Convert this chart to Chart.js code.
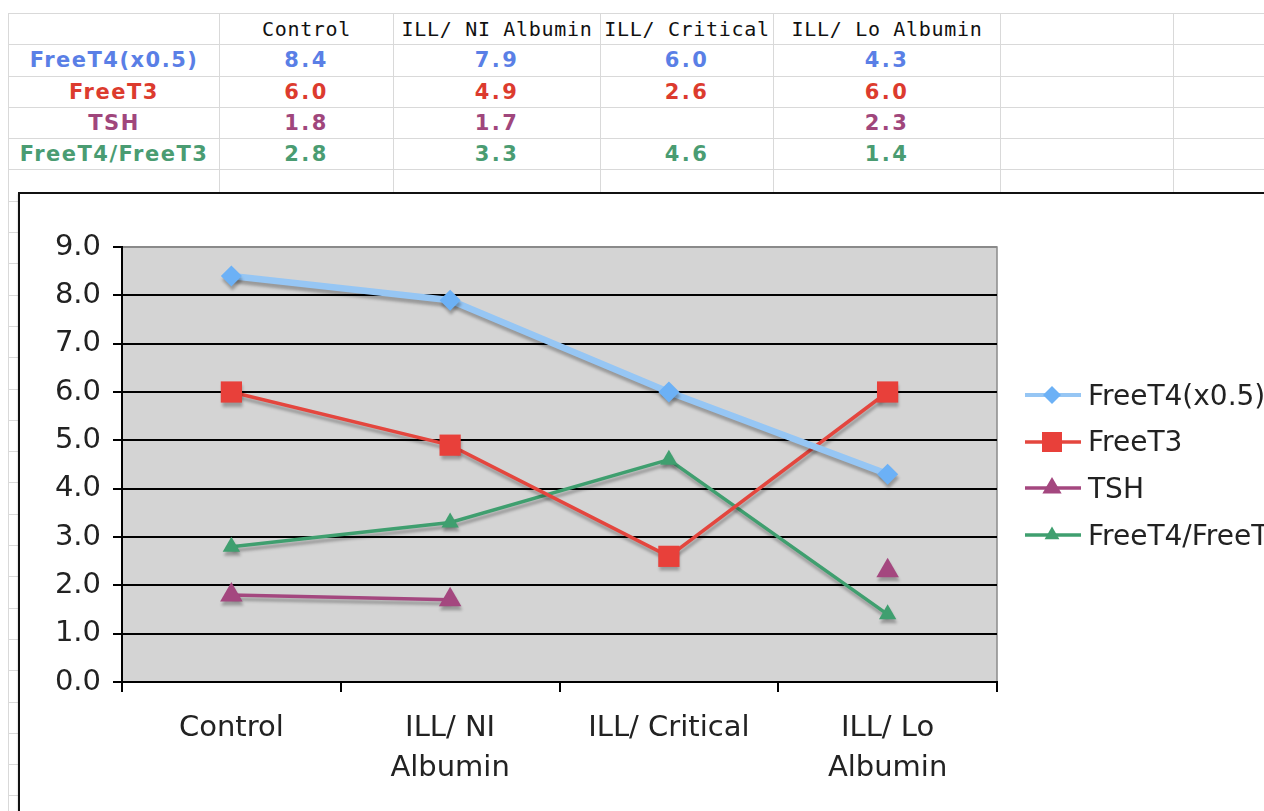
<!DOCTYPE html>
<html>
<head>
<meta charset="utf-8">
<script src="https://cdn.jsdelivr.net/npm/chart.js@4/dist/chart.umd.min.js"></script>
<style>
  html, body { margin:0; padding:0; background:#fff; width:1264px; height:811px; overflow:hidden; }
  #sheet { position:absolute; left:8px; top:13px; border-collapse:collapse; table-layout:fixed; width:1285px; }
  #sheet td { border:1px solid #d9d9d9; height:30.3px; padding:0; text-align:center; white-space:nowrap; overflow:hidden;
              font-family:"DejaVu Sans", sans-serif; font-size:21px; }
  #sheet td.hdr { font-family:"DejaVu Sans Mono", monospace; font-size:20px; letter-spacing:0.7px; color:#111; }
  #sheet td.lab { font-weight:bold; letter-spacing:1.5px; }
  #sheet td.val { font-weight:bold; letter-spacing:2.5px; }
  #box { position:absolute; left:18px; top:192px; width:1300px; height:700px; border:2px solid #111; background:#fff;
         box-shadow: 0 2px 2px rgba(0,0,0,0.25); }
  #cv { position:absolute; left:0; top:0; }
  #legend { position:absolute; left:1005px; top:181px; font-family:"DejaVu Sans", sans-serif; font-size:28px; color:#222; }
  .li { position:absolute; left:0; height:40px; white-space:nowrap; display:flex; align-items:center; }
  .li svg { margin-right:7px; }
</style>
</head>
<body>
<table id="sheet"></table>
<div id="box">
  <canvas id="cv" width="1244" height="617"></canvas>
  <div id="legend"></div>
</div>
<script>
// ---- data ----
const categories = ['Control', 'ILL/ NI Albumin', 'ILL/ Critical', 'ILL/ Lo Albumin'];
const axisLabels = [['Control'], ['ILL/ NI', 'Albumin'], ['ILL/ Critical'], ['ILL/ Lo', 'Albumin']];
const seriesNames = ['FreeT4(x0.5)', 'FreeT3', 'TSH', 'FreeT4/FreeT3'];
const freeT4Half = [8.4, 7.9, 6.0, 4.3];
const freeT3 = [6.0, 4.9, 2.6, 6.0];
const tsh = [1.8, 1.7, null, 2.3];
const ratioT4T3 = [2.8, 3.3, 4.6, 1.4];
const yTicks = [0, 1, 2, 3, 4, 5, 6, 7, 8, 9];

// ---- styles ----
const textColors = ['#5a7fe6', '#dc3b2e', '#a0467c', '#4a9c72'];
const lineColors = ['#96c6f4', '#e4463e', '#a4477f', '#3f9f6f'];
const markColors = ['#6cb1f6', '#e8403a', '#a4477f', '#3f9f6f'];
const lineWidths = [6.5, 3.5, 3.5, 3.5];
const pointStyles = ['rectRot', 'rect', 'triangle', 'triangle'];
const pointRadii = [10.5, 15, 13, 10];
const allSeries = [freeT4Half, freeT3, tsh, ratioT4T3];

// ---- spreadsheet table ----
(function buildSheet(){
  const colW = [211, 174, 207, 173, 227, 173, 120];
  const t = document.getElementById('sheet');
  const cg = document.createElement('colgroup');
  colW.forEach(w => { const c = document.createElement('col'); c.style.width = w + 'px'; cg.appendChild(c); });
  t.appendChild(cg);
  let tr = t.insertRow();
  for (let i = 0; i < colW.length; i++) {
    const td = tr.insertCell(); td.className = 'hdr';
    if (i >= 1 && i <= categories.length) td.textContent = categories[i - 1];
  }
  allSeries.forEach((s, si) => {
    tr = t.insertRow();
    for (let i = 0; i < colW.length; i++) {
      const td = tr.insertCell();
      if (i === 0) { td.className = 'lab'; td.textContent = seriesNames[si]; td.style.color = textColors[si]; }
      else if (i <= s.length) {
        td.className = 'val'; td.style.color = textColors[si];
        const v = s[i - 1]; td.textContent = (v === null) ? '' : v.toFixed(1);
      }
    }
  });
  for (let r = 0; r < 21; r++) {
    tr = t.insertRow();
    for (let i = 0; i < colW.length; i++) tr.insertCell();
  }
})();

// ---- legend (HTML) ----
(function buildLegend(){
  const lg = document.getElementById('legend');
  const tops = [0, 46.7, 93.4, 140.1];
  seriesNames.forEach((n, i) => {
    const d = document.createElement('div'); d.className = 'li'; d.style.top = tops[i] + 'px';
    let mark = '';
    const cx = 27, cy = 20;
    if (pointStyles[i] === 'rectRot') mark = `<polygon points="${cx},${cy-9} ${cx+9},${cy} ${cx},${cy+9} ${cx-9},${cy}" fill="${markColors[i]}"/>`;
    else if (pointStyles[i] === 'rect') mark = `<rect x="${cx-10}" y="${cy-10}" width="20" height="20" fill="${markColors[i]}"/>`;
    else { const r = pointRadii[i] * 0.85; mark = `<polygon points="${cx},${cy-r} ${cx+r*0.87},${cy+r*0.5} ${cx-r*0.87},${cy+r*0.5}" fill="${markColors[i]}"/>`; }
    d.innerHTML = `<svg width="56" height="40"><line x1="0" y1="20" x2="56" y2="20" stroke="${lineColors[i]}" stroke-width="${Math.min(lineWidths[i],4)}"/>${mark}</svg><span>${n}</span>`;
    lg.appendChild(d);
  });
})();

// ---- chart ----
const plotBg = {
  id: 'plotBg',
  beforeDraw(chart) {
    const {ctx, chartArea: a} = chart;
    ctx.save();
    ctx.fillStyle = '#d4d4d4';
    ctx.fillRect(a.left, a.top, a.right - a.left, a.bottom - a.top);
    ctx.strokeStyle = '#8a8a8a'; ctx.lineWidth = 1.5;
    ctx.beginPath(); ctx.moveTo(a.left, a.top); ctx.lineTo(a.right, a.top); ctx.lineTo(a.right, a.bottom); ctx.stroke();
    ctx.restore();
  }
};
const shadow = {
  id: 'shadow',
  beforeDatasetsDraw(chart) { const c = chart.ctx; c.save(); c.shadowColor = 'rgba(0,0,0,0.28)'; c.shadowBlur = 3; c.shadowOffsetX = 1; c.shadowOffsetY = 4; },
  afterDatasetsDraw(chart) { chart.ctx.restore(); }
};

const FONT = '"DejaVu Sans", sans-serif';
new Chart(document.getElementById('cv'), {
  type: 'line',
  data: {
    labels: categories,
    datasets: allSeries.map((s, i) => ({
      label: seriesNames[i],
      data: s,
      borderColor: lineColors[i],
      backgroundColor: markColors[i],
      pointBackgroundColor: markColors[i],
      pointBorderColor: markColors[i],
      pointBorderWidth: 0,
      borderWidth: lineWidths[i],
      pointStyle: pointStyles[i],
      pointRadius: pointRadii[i],
      spanGaps: false,
      tension: 0
    }))
  },
  options: {
    responsive: false,
    animation: false,
    devicePixelRatio: 1,
    layout: { padding: { left: 0, top: 53, right: 267, bottom: 0 } },
    plugins: { legend: { display: false }, tooltip: { enabled: false } },
    scales: {
      x: {
        offset: true,
        grid: { offset: true, drawOnChartArea: false, drawTicks: true, tickLength: 10, color: '#000', lineWidth: 2 },
        border: { display: true, color: '#000', width: 2 },
        ticks: { color: '#222', font: { family: FONT, size: 29, lineHeight: 1.38 }, padding: 16, maxRotation: 0, autoSkip: false,
                 callback: (v, i) => axisLabels[i] },
        afterFit(s) { s.height = 129; }
      },
      y: {
        min: 0, max: 9,
        afterBuildTicks(s) { s.ticks = yTicks.map(v => ({ value: v })); },
        grid: { color: c => (c.tick && c.tick.value === 9) ? '#8a8a8a' : '#000', tickColor: '#000', lineWidth: 2, tickLength: 9, drawTicks: true },
        border: { display: true, color: '#000', width: 2 },
        ticks: { color: '#222', font: { family: FONT, size: 29 }, padding: 12, callback: v => Number(v).toFixed(1) },
        afterFit(s) { s.width = 102; }
      }
    }
  },
  plugins: [plotBg, shadow]
});
</script>
</body>
</html>
